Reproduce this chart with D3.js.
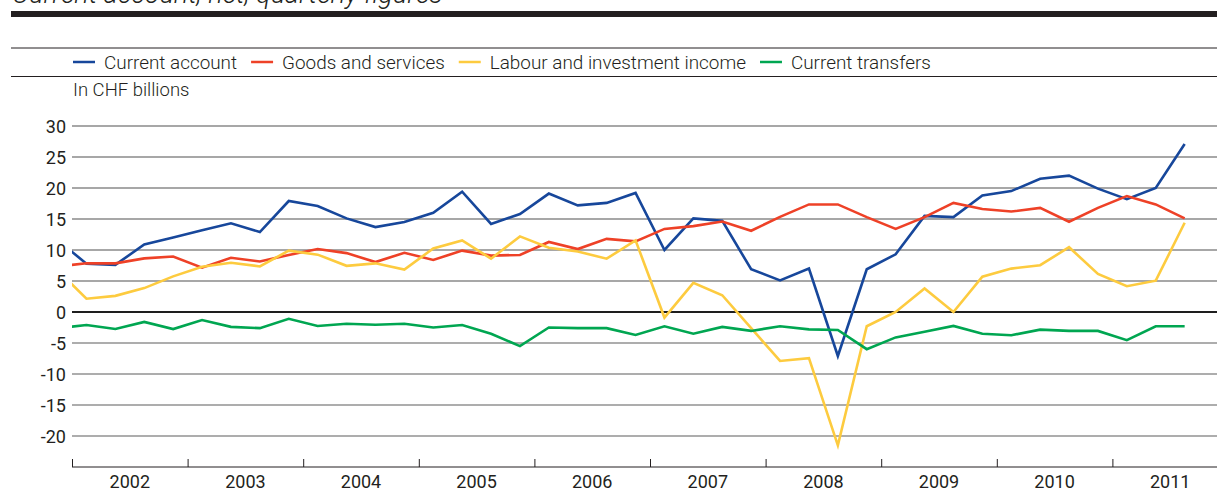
<!DOCTYPE html>
<html>
<head>
<meta charset="utf-8">
<script src="https://cdn.jsdelivr.net/npm/d3@7"></script>
<style>
  body { margin: 0; background: #fff; }
  svg { display: block; font-family: Roboto, "Liberation Sans", sans-serif; }
</style>
</head>
<body>
<svg id="chart"></svg>
<script>
// quarterly figures, first value is 2001 Q4 (partly hidden at the left edge)
const firstQuarter = 2001.75;
const years = [2002, 2003, 2004, 2005, 2006, 2007, 2008, 2009, 2010, 2011];
const yTicks = [-20, -15, -10, -5, 0, 5, 10, 15, 20, 25, 30];

const currentAccount = [11.6, 7.8, 7.6, 10.9, 12.0, 13.2, 14.3, 12.9, 17.9, 17.1,
  15.1, 13.7, 14.5, 16.0, 19.4, 14.2, 15.8, 19.1, 17.2, 17.6,
  19.2, 10.0, 15.1, 14.7, 6.9, 5.1, 7.0, -7.1, 6.9, 9.3,
  15.5, 15.3, 18.8, 19.5, 21.5, 22.0, 19.9, 18.2, 20.0, 27.1];
const goodsServices = [7.35, 7.85, 7.85, 8.65, 8.95, 7.15, 8.75, 8.15, 9.2, 10.15,
  9.5, 8.05, 9.55, 8.4, 9.9, 9.1, 9.2, 11.3, 10.15, 11.8,
  11.4, 13.4, 13.85, 14.6, 13.1, 15.35, 17.35, 17.35, 15.3, 13.4,
  15.3, 17.6, 16.6, 16.2, 16.8, 14.55, 16.8, 18.7, 17.35, 15.1];
const labourIncome = [6.75, 2.15, 2.6, 3.85, 5.75, 7.3, 7.95, 7.35, 9.9, 9.25,
  7.45, 7.85, 6.85, 10.25, 11.55, 8.6, 12.2, 10.35, 9.75, 8.6,
  11.55, -0.9, 4.7, 2.7, -2.6, -7.9, -7.45, -21.5, -2.3, 0.0,
  3.8, 0.0, 5.7, 7.0, 7.55, 10.45, 6.15, 4.15, 5.05, 14.4];
const currentTransfers = [-2.6, -2.1, -2.75, -1.6, -2.75, -1.3, -2.4, -2.6, -1.1, -2.25,
  -1.9, -2.05, -1.9, -2.5, -2.1, -3.5, -5.5, -2.5, -2.6, -2.6,
  -3.7, -2.3, -3.5, -2.4, -3.05, -2.3, -2.8, -2.9, -6.0, -4.1,
  -3.2, -2.25, -3.5, -3.75, -2.85, -3.05, -3.05, -4.55, -2.3, -2.3];

const seriesNames = ['Current account', 'Goods and services', 'Labour and investment income', 'Current transfers'];
const seriesColors = ['#17479b', '#ee4127', '#fdcb3f', '#00a651'];
const seriesValues = [currentAccount, goodsServices, labourIncome, currentTransfers];

class QuarterlyChart {

  constructor(_config) {
    this.config = {
      parentElement: _config.parentElement,
      containerWidth: 1217,
      containerHeight: 491,
      margin: {top: 126, left: 72}
    };
    this.initVis();
  }

  initVis() {
    let vis = this;

    vis.svg = d3.select(vis.config.parentElement)
        .attr('width', vis.config.containerWidth)
        .attr('height', vis.config.containerHeight);

    // one year is ~115.6px, axis runs past the right edge of the picture
    vis.xScale = d3.scaleLinear()
        .domain([2002, 2012])
        .range([vis.config.margin.left, vis.config.margin.left + 1156]);

    vis.yScale = d3.scaleLinear()
        .domain([-25, 30])
        .range([467, vis.config.margin.top]);

    // title, cut by the top edge like in the source
    vis.svg.append('text')
        .attr('x', 12)
        .attr('y', 3)
        .attr('font-size', '27px')
        .attr('font-style', 'italic')
        .attr('font-weight', 300)
        .attr('fill', '#231f20')
        .text('Current account, net, quarterly figures');

    vis.svg.append('rect')
        .attr('x', 11).attr('y', 11)
        .attr('width', vis.config.containerWidth).attr('height', 6)
        .attr('fill', '#231f20');

    [48, 76.5].forEach(y => {
      vis.svg.append('line')
          .attr('x1', 11).attr('x2', vis.config.containerWidth)
          .attr('y1', y).attr('y2', y)
          .attr('stroke', '#231f20').attr('stroke-width', 1);
    });

    vis.renderLegend();

    vis.svg.append('text')
        .attr('x', 73)
        .attr('y', 96)
        .attr('font-size', '18.5px')
        .attr('font-weight', 300)
        .attr('fill', '#231f20')
        .text('In CHF billions');

    vis.updateVis();
  }

  renderLegend() {
    let vis = this;
    let legend = vis.svg.append('g').attr('class', 'legend');
    let x = 73;
    seriesNames.forEach((name, i) => {
      legend.append('line')
          .attr('x1', x).attr('x2', x + 22)
          .attr('y1', 62).attr('y2', 62)
          .attr('stroke', seriesColors[i])
          .attr('stroke-width', 2.5);
      let t = legend.append('text')
          .attr('x', x + 31)
          .attr('y', 68.5)
          .attr('font-size', '18.9px')
          .attr('font-weight', 300)
          .attr('fill', '#231f20')
          .text(name);
      x += 31 + t.node().getComputedTextLength() + 14;
    });
  }

  updateVis() {
    let vis = this;

    vis.data = seriesValues.map((vals, i) => ({
      name: seriesNames[i],
      color: seriesColors[i],
      values: vals.map((v, j) => ({t: firstQuarter + 0.125 + j * 0.25, v: v}))
    }));

    vis.line = d3.line()
        .x(d => vis.xScale(d.t))
        .y(d => vis.yScale(d.v));

    vis.renderVis();
  }

  renderVis() {
    let vis = this;
    let W = vis.config.containerWidth;
    let left = vis.config.margin.left;

    // gridlines: lighter and heavier above zero, darker thin below
    vis.svg.append('g')
        .selectAll('line')
        .data(yTicks)
      .join('line')
        .attr('x1', left).attr('x2', W)
        .attr('y1', d => vis.yScale(d)).attr('y2', d => vis.yScale(d))
        .attr('stroke', d => d === 0 ? '#1e1e1e' : (d > 0 ? '#8a8a8a' : '#5c5c5c'))
        .attr('stroke-width', d => d === 0 ? 2.2 : (d > 0 ? 1.6 : 1.1));

    // y labels
    vis.svg.append('g')
        .selectAll('text')
        .data(yTicks)
      .join('text')
        .attr('x', 66)
        .attr('y', d => vis.yScale(d) + 6.5)
        .attr('text-anchor', 'end')
        .attr('font-size', '18px')
        .attr('fill', '#231f20')
        .text(d => d);

    // x axis
    let xAxis = d3.axisBottom(vis.xScale)
        .tickValues(d3.range(2002, 2013))
        .tickSize(-8)
        .tickSizeOuter(0)
        .tickFormat('');

    let xg = vis.svg.append('g')
        .attr('transform', `translate(0,${vis.yScale(-25)})`)
        .call(xAxis);
    xg.select('.domain').attr('stroke', '#231f20').attr('d', `M${left},0H${W}`);
    xg.selectAll('.tick line').attr('stroke', '#231f20');

    vis.svg.append('g')
        .selectAll('text')
        .data(years)
      .join('text')
        .attr('x', d => vis.xScale(d + 0.5))
        .attr('y', 488)
        .attr('text-anchor', 'middle')
        .attr('font-size', '18px')
        .attr('fill', '#231f20')
        .text(d => d);

    vis.svg.append('clipPath')
        .attr('id', 'plot-clip')
      .append('rect')
        .attr('x', left).attr('y', 0)
        .attr('width', W - left).attr('height', vis.config.containerHeight);

    vis.svg.append('g')
        .attr('clip-path', 'url(#plot-clip)')
        .selectAll('path')
        .data(vis.data)
      .join('path')
        .attr('fill', 'none')
        .attr('stroke', d => d.color)
        .attr('stroke-width', 2.6)
        .attr('stroke-linejoin', 'miter')
        .attr('d', d => vis.line(d.values));
  }
}

new QuarterlyChart({parentElement: '#chart'});
</script>
</body>
</html>
